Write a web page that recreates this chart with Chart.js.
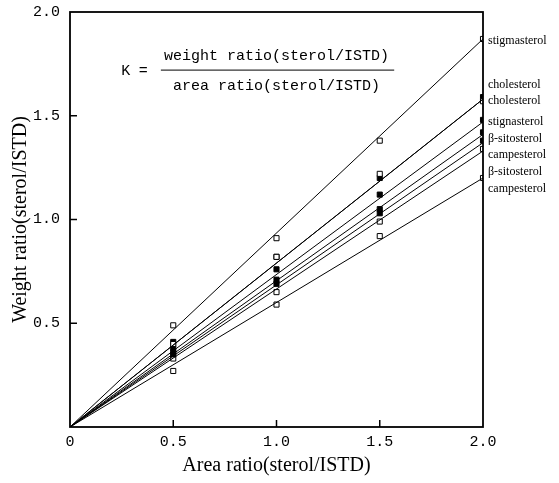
<!DOCTYPE html>
<html>
<head>
<meta charset="utf-8">
<script src="https://cdn.jsdelivr.net/npm/chart.js@4.4.0/dist/chart.umd.min.js"></script>
<style>
body { margin: 0; background: #fff; }
</style>
</head>
<body>
<canvas id="myChart" width="559" height="483"></canvas>
<script>
// area ratios where the standards were measured
var areaRatios = [0.5, 1.0, 1.5, 2.0];

// names on the right side, top to bottom (spelling as in the original)
var sterolNames = ["stigmasterol", "cholesterol", "cholesterol", "stignasterol", "\u03b2-sitosterol", "campesterol", "\u03b2-sitosterol", "campesterol"];
// weight ratio level of each name
var nameLevels = [1.86, 1.65, 1.57, 1.47, 1.39, 1.31, 1.23, 1.15];

// open or filled square for each series
var filled = [false, false, true, true, true, true, false, false];

// measured weight ratios, one list per series
var stigmasterolOpen = [0.49, 0.91, 1.38, 1.87];
var cholesterolOpen = [0.40, 0.82, 1.22, 1.57];
var cholesterolFilled = [0.41, 0.82, 1.20, 1.59];
var stigmasterolFilled = [0.38, 0.76, 1.12, 1.48];
var sitosterolFilled = [0.36, 0.71, 1.05, 1.42];
var campesterolFilled = [0.35, 0.69, 1.03, 1.38];
var sitosterolOpen = [0.33, 0.65, 0.99, 1.34];
var campesterolOpen = [0.27, 0.59, 0.92, 1.20];

var allPoints = [stigmasterolOpen, cholesterolOpen, cholesterolFilled, stigmasterolFilled,
    sitosterolFilled, campesterolFilled, sitosterolOpen, campesterolOpen];

// fitted line (through origin) value at area ratio 2.0
var lineEnds = [1.87, 1.58, 1.58, 1.47, 1.41, 1.37, 1.33, 1.20];

var tickValues = [0.5, 1.0, 1.5];

// build the datasets
var datasets = [];
for (var i = 0; i < lineEnds.length; i++) {
    datasets.push({
        data: [{x: 0, y: 0}, {x: 2.0, y: lineEnds[i]}],
        showLine: true,
        borderColor: "#000",
        borderWidth: 1,
        pointRadius: 0
    });
}
for (var i = 0; i < allPoints.length; i++) {
    var pts = [];
    for (var j = 0; j < areaRatios.length; j++) {
        pts.push({x: areaRatios[j], y: allPoints[i][j]});
    }
    datasets.push({
        data: pts,
        showLine: false,
        pointStyle: "rect",
        pointRadius: 3.6,
        pointBorderWidth: 1,
        pointBorderColor: "#000",
        pointBackgroundColor: filled[i] ? "#000" : "#fff"
    });
}

// frame, inward ticks, formula and names
var extras = {
    id: "extras",
    afterDraw: function(chart) {
        var ctx = chart.ctx;
        var a = chart.chartArea;
        var xs = chart.scales.x;
        var ys = chart.scales.y;
        ctx.save();
        ctx.strokeStyle = "#000";
        ctx.lineWidth = 1.8;
        ctx.strokeRect(a.left, a.top, a.right - a.left, a.bottom - a.top);

        ctx.lineWidth = 1.5;
        tickValues.forEach(function(v) {
            var px = xs.getPixelForValue(v);
            ctx.beginPath();
            ctx.moveTo(px, a.bottom);
            ctx.lineTo(px, a.bottom - 7);
            ctx.stroke();
            var py = ys.getPixelForValue(v);
            ctx.beginPath();
            ctx.moveTo(a.left, py);
            ctx.lineTo(a.left + 7, py);
            ctx.stroke();
        });

        // K formula
        ctx.fillStyle = "#000";
        ctx.font = "15px 'Liberation Mono'";
        ctx.textBaseline = "middle";
        ctx.textAlign = "center";
        var cx = xs.getPixelForValue(1.0);
        var lineY = ys.getPixelForValue(1.72);
        ctx.fillText("weight ratio(sterol/ISTD)", cx, lineY - 14);
        ctx.fillText("area ratio(sterol/ISTD)", cx, lineY + 16);
        ctx.fillText("K", xs.getPixelForValue(0.27), lineY + 1);
        ctx.fillText("=", xs.getPixelForValue(0.355), lineY + 1);
        ctx.lineWidth = 1;
        ctx.beginPath();
        ctx.moveTo(xs.getPixelForValue(0.44), lineY);
        ctx.lineTo(xs.getPixelForValue(1.57), lineY);
        ctx.stroke();

        // sterol names
        ctx.font = "12px 'Liberation Serif'";
        ctx.textAlign = "left";
        for (var i = 0; i < sterolNames.length; i++) {
            ctx.fillText(sterolNames[i], a.right + 5, ys.getPixelForValue(nameLevels[i]));
        }
        ctx.restore();
    }
};

var ctx = document.getElementById("myChart");
var myChart = new Chart(ctx, {
    type: "scatter",
    data: { datasets: datasets },
    options: {
        responsive: false,
        animation: false,
        devicePixelRatio: 1,
        layout: { padding: { left: 0, right: 76, top: 12, bottom: 0 } },
        plugins: { legend: { display: false }, tooltip: { enabled: false } },
        scales: {
            x: {
                type: "linear",
                min: 0,
                max: 2.0,
                afterFit: function(scale) { scale.height = 56; },
                grid: { display: false, drawTicks: false },
                border: { display: false },
                ticks: {
                    stepSize: 0.5,
                    padding: 6,
                    color: "#000",
                    font: { family: "'Liberation Mono'", size: 15 },
                    callback: function(v) { return v === 0 ? "0" : v.toFixed(1); }
                },
                title: {
                    display: true,
                    text: "Area ratio(sterol/ISTD)",
                    color: "#000",
                    font: { family: "'Liberation Serif'", size: 20 },
                    padding: { top: 5, bottom: 5 }
                }
            },
            y: {
                type: "linear",
                min: 0,
                max: 2.0,
                afterFit: function(scale) { scale.width = 70; scale.paddingTop = 0; scale.paddingBottom = 0; },
                grid: { display: false, drawTicks: false },
                border: { display: false },
                ticks: {
                    stepSize: 0.5,
                    padding: 10,
                    color: "#000",
                    font: { family: "'Liberation Mono'", size: 15 },
                    callback: function(v) { return v === 0 ? "" : v.toFixed(1); }
                },
                title: {
                    display: true,
                    text: "Weight ratio(sterol/ISTD)",
                    color: "#000",
                    font: { family: "'Liberation Serif'", size: 20 },
                    padding: { top: 9, bottom: 0 }
                }
            }
        }
    },
    plugins: [extras]
});
</script>
</body>
</html>
